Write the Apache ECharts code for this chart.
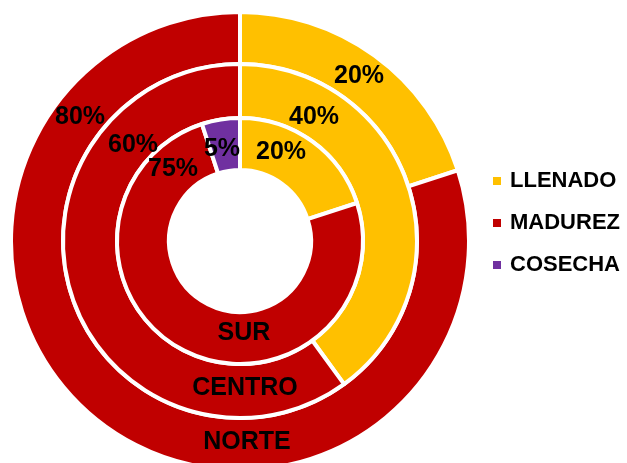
<!DOCTYPE html>
<html>
<head>
<meta charset="utf-8">
<script src="https://cdn.jsdelivr.net/npm/echarts@6/dist/echarts.min.js"></script>
<style>
  html, body { margin: 0; padding: 0; background: #fff; }
  #pieChart { width: 627px; height: 463px; }
</style>
</head>
<body>
<div id="pieChart"></div>
<script>
// estados y colores
var estados = ["LLENADO", "MADUREZ", "COSECHA"];
var colores = { LLENADO: "#FFC000", MADUREZ: "#C00000", COSECHA: "#7030A0" };

// porcentajes por zona (anillo exterior -> interior)
var norte = [20, 80];
var centro = [40, 60];
var sur = [20, 75, 5];

// posicion de las etiquetas de % (como en la imagen original)
var posNorte = [[359, 76], [80, 117]];
var posCentro = [[314, 117], [133, 145]];
var posSur = [[281, 152], [173, 169], [222, 149]];

var FONT = "'Liberation Sans', Arial, sans-serif";
var centro_xy = [240, 241];

function toData(vals) {
  return vals.map(function (v, i) {
    return { name: estados[i], value: v, itemStyle: { color: colores[estados[i]] } };
  });
}

function anillo(name, vals, radius, pos) {
  return {
    name: name,
    type: "pie",
    center: centro_xy,
    radius: radius,
    startAngle: 90,
    clockwise: true,
    silent: true,
    data: toData(vals),
    itemStyle: { borderColor: "#fff", borderWidth: 4 },
    label: {
      show: true,
      position: "inside",
      formatter: "{c}%",
      color: "#000",
      fontFamily: FONT,
      fontWeight: "bold",
      fontSize: 25
    },
    labelLine: { show: false },
    labelLayout: function (params) {
      var p = pos[params.dataIndex];
      return { x: p[0], y: p[1] };
    }
  };
}

// nombre de la zona, encima de los anillos
function nombre(txt, x, y) {
  return {
    type: "text",
    x: x,
    y: y,
    z: 100,
    style: {
      text: txt,
      fill: "#000",
      font: "bold 25px " + FONT,
      align: "center",
      verticalAlign: "middle"
    }
  };
}

var chart = echarts.init(document.getElementById("pieChart"));
chart.setOption({
  animation: false,
  legend: {
    orient: "vertical",
    left: 486,
    top: 165,
    data: estados,
    icon: "rect",
    itemWidth: 10,
    itemHeight: 10,
    itemGap: 20,
    textStyle: {
      color: "#000",
      fontFamily: FONT,
      fontWeight: "bold",
      fontSize: 22,
      lineHeight: 22,
      padding: [0, 0, 0, 3]
    }
  },
  graphic: {
    elements: [
      nombre("SUR", 244, 333),
      nombre("CENTRO", 245, 388),
      nombre("NORTE", 247, 442)
    ]
  },
  series: [
    anillo("NORTE", norte, [177, 229], posNorte),
    anillo("CENTRO", centro, [123, 177], posCentro),
    anillo("SUR", sur, [71, 123], posSur)
  ]
});
</script>
</body>
</html>
